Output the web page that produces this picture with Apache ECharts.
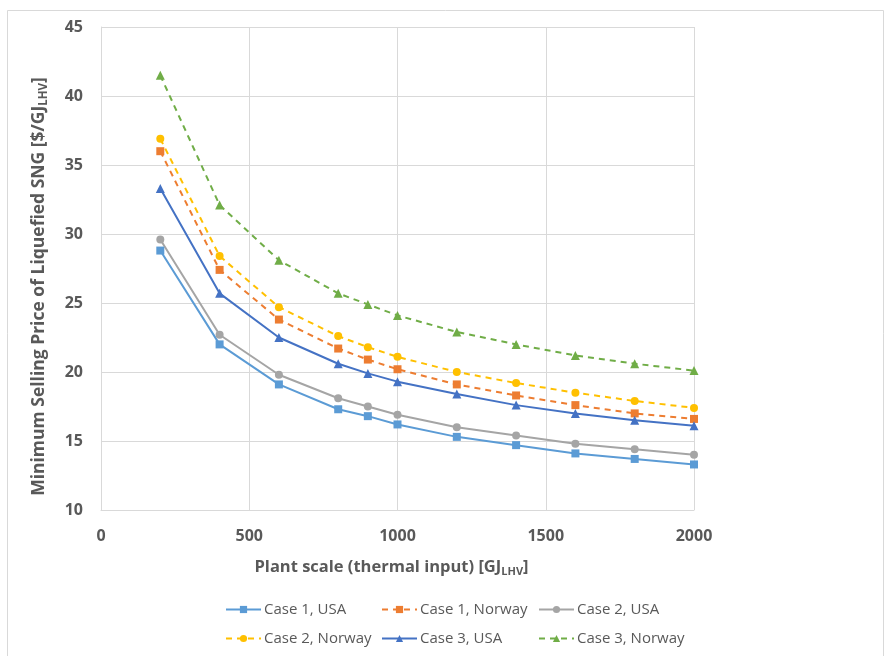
<!DOCTYPE html>
<html><head><meta charset="utf-8">
<script src="https://cdn.jsdelivr.net/npm/echarts@6/dist/echarts.min.js"></script>
<style>html,body{margin:0;padding:0;background:#fff}#c{width:891px;height:656px}</style>
</head><body><div id="c"></div>
<script>
const xValues = [200, 400, 600, 800, 900, 1000, 1200, 1400, 1600, 1800, 2000];
const case1USA    = [28.8, 22.0, 19.1, 17.3, 16.8, 16.2, 15.3, 14.7, 14.1, 13.7, 13.3];
const case1Norway = [36.0, 27.4, 23.8, 21.7, 20.9, 20.2, 19.1, 18.3, 17.6, 17.0, 16.6];
const case2USA    = [29.6, 22.7, 19.8, 18.1, 17.5, 16.9, 16.0, 15.4, 14.8, 14.4, 14.0];
const case2Norway = [36.9, 28.4, 24.7, 22.6, 21.8, 21.1, 20.0, 19.2, 18.5, 17.9, 17.4];
const case3USA    = [33.3, 25.7, 22.5, 20.6, 19.9, 19.3, 18.4, 17.6, 17.0, 16.5, 16.1];
const case3Norway = [41.5, 32.1, 28.1, 25.7, 24.9, 24.1, 22.9, 22.0, 21.2, 20.6, 20.1];
const seriesNames = ['Case 1, USA','Case 1, Norway','Case 2, USA','Case 2, Norway','Case 3, USA','Case 3, Norway'];

const defs = [
  {name: seriesNames[0], data: case1USA, color:'#5B9BD5', dash:'solid', symbol:'rect', size:8},
  {name: seriesNames[1], data: case1Norway, color:'#ED7D31', dash:'dashed', symbol:'rect', size:8},
  {name: seriesNames[2], data: case2USA, color:'#A5A5A5', dash:'solid', symbol:'circle', size:8},
  {name: seriesNames[3], data: case2Norway, color:'#FFC000', dash:'dashed', symbol:'circle', size:8},
  {name: seriesNames[4], data: case3USA, color:'#4472C4', dash:'solid', symbol:'triangle', size:9},
  {name: seriesNames[5], data: case3Norway, color:'#70AD47', dash:'dashed', symbol:'triangle', size:9}
];
const font = '"Open Sans", "Noto Sans", sans-serif';
const legendPos = [[220,597],[376,597],[533,597],[220,626],[376,626],[533,626]];

const chart = echarts.init(document.getElementById('c'));
chart.setOption({
  animation:false,
  backgroundColor:'#fff',
  graphic:[{type:'rect', shape:{x:7.5,y:10.5,width:876,height:660}, style:{fill:'none', stroke:'#d9d9d9', lineWidth:1}}],
  grid:{left:101, right:197, top:27, bottom:146},
  legend: defs.map((d,i)=>({
    data:[d.name], left:legendPos[i][0], top:legendPos[i][1], itemWidth:35, itemHeight:9, itemGap:4,
    textStyle:{color:'#595959', fontSize:15, fontFamily:font, padding:[0,0,0,-2]}
  })),
  xAxis:{
    type:'value', min:0, max:2000, interval:500,
    name:'Plant scale (thermal input) [GJ{s|LHV}]',
    nameLocation:'middle', nameGap:47,
    nameTextStyle:{color:'#595959', fontSize:16.5, fontWeight:'bold', fontFamily:font, padding:[0,12,0,0],
      rich:{s:{fontSize:11, fontWeight:'bold', color:'#595959', verticalAlign:'bottom', padding:[9,0,0,0], fontFamily:font}}},
    axisLine:{show:true, lineStyle:{color:'#d9d9d9'}},
    axisTick:{show:false},
    axisLabel:{color:'#595959', fontSize:16, fontWeight:'bold', margin:18, fontFamily:font, formatter:v=>String(v)},
    splitLine:{show:true, lineStyle:{color:'#d9d9d9'}}
  },
  yAxis:{
    type:'value', min:10, max:45, interval:5,
    name:'Minimum Selling Price of Liquefied SNG [$/GJ{s|LHV}]',
    nameLocation:'middle', nameGap:51,
    nameTextStyle:{color:'#595959', fontSize:17.5, fontWeight:'bold', fontFamily:font, padding:[0,36,0,0],
      rich:{s:{fontSize:11.5, fontWeight:'bold', color:'#595959', verticalAlign:'bottom', padding:[10,0,0,0], fontFamily:font}}},
    axisLine:{show:true, lineStyle:{color:'#d9d9d9'}},
    axisTick:{show:false},
    axisLabel:{color:'#595959', fontSize:16, fontWeight:'bold', margin:18, fontFamily:font, formatter:v=>String(v)},
    splitLine:{show:true, lineStyle:{color:'#d9d9d9'}}
  },
  series: defs.map(d=>({
    type:'line', name:d.name,
    data: xValues.map((x,i)=>[x, d.data[i]]),
    symbol:d.symbol, symbolSize:d.size, showAllSymbol:true,
    itemStyle:{color:d.color},
    lineStyle:{color:d.color, width:2, type:d.dash==='dashed'?[6,5]:'solid'}
  }))
});
</script></body></html>
